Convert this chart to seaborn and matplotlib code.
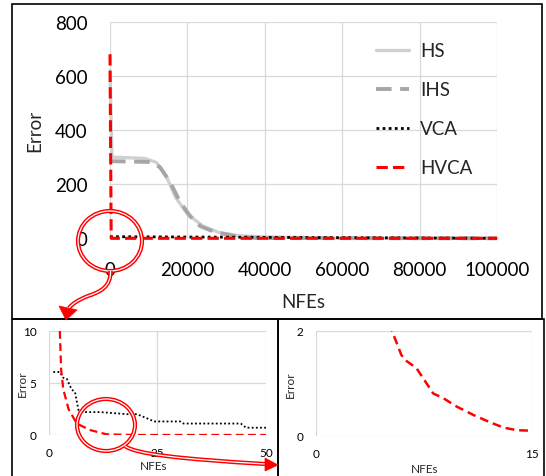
import pandas as pd
import numpy as np
import matplotlib
matplotlib.use('Agg')
import matplotlib.pyplot as plt
import seaborn as sns
from matplotlib.patches import Ellipse, Rectangle, Polygon, PathPatch
from matplotlib.path import Path

sns.set_theme(style='white')
plt.rcParams['font.family'] = ['Lato', 'DejaVu Sans']

# Top panel (full run)
hs_x = [0, 500, 9000, 12000, 14500, 17000, 20000, 24000, 28000, 33000, 40000, 50000, 58000, 100000]
hs_y = [620, 300, 295, 280, 230, 150, 90, 45, 22, 10, 5, 3, 0, 0]
ihs_x = [0, 10300, 12900, 15500, 18100, 20700, 23300, 27100, 33600, 38000, 100000]
ihs_y = [285, 282, 263, 208, 134, 82, 45, 23, 5, 1, 0]
vca_x = [0, 100000]
vca_y = [6, 0]
hvca_x = [0, 300, 100000]
hvca_y = [680, 0, 0]

# Bottom-left zoom (first 50 NFEs)
zl_vca_x = [1, 2.5, 3.3, 4.1, 5.2, 6.0, 6.8, 7.9, 11.8, 18, 20.3, 22.6, 24.2, 30.3, 31, 44.2, 45.4, 50]
zl_vca_y = [6.06, 6.06, 5.5, 5.4, 4.4, 4.1, 2.4, 2.2, 2.2, 2.0, 2.0, 1.6, 1.3, 1.3, 1.1, 1.1, 0.7, 0.7]
zl_hvca_x = [2.5, 2.8, 3.3, 4.5, 6.4, 9.5, 13.3, 19.5, 50]
zl_hvca_y = [10, 6.3, 4.4, 2.5, 1.1, 0.47, 0.06, 0, 0]

# Bottom-right zoom (first 15 NFEs)
zr_hvca_x = [5.1, 5.28, 5.93, 6.28, 6.98, 7.44, 8.14, 8.84, 9.77, 10.93, 12.09, 13.02, 13.95, 15]
zr_hvca_y = [2.15, 2.0, 1.54, 1.43, 1.29, 1.10, 0.81, 0.72, 0.56, 0.40, 0.26, 0.16, 0.11, 0.10]

RED = '#ff0000'
GRID = '#d9d9d9'

fig = plt.figure(figsize=(5.46, 4.77), dpi=100)


def style_axes(ax, xticks, yticks, fs, pad):
    ax.set_xticks(xticks)
    ax.set_yticks(yticks)
    ax.set_xlim(xticks[0], xticks[-1])
    ax.set_ylim(yticks[0], yticks[-1])
    ax.grid(True, color=GRID, lw=0.9)
    for s in ax.spines.values():
        s.set_visible(False)
    ax.tick_params(length=0, labelsize=fs, pad=pad, colors='black')


# top chart
ax = fig.add_axes([0.2015, 0.4983, 0.7088, 0.4541])
sns.lineplot(x=hs_x, y=hs_y, ax=ax, color='#d0d0d0', lw=2.4, label='HS')
sns.lineplot(x=ihs_x, y=ihs_y, ax=ax, color='#a6a6a6', lw=2.8, linestyle=(0, (4, 2.2)), label='IHS')
sns.lineplot(x=vca_x, y=vca_y, ax=ax, color='black', lw=2.0, linestyle=(0, (1, 1.2)), label='VCA')
sns.lineplot(x=hvca_x, y=hvca_y, ax=ax, color=RED, lw=2.2, linestyle=(0, (3.7, 1.7)), label='HVCA')
style_axes(ax, [0, 20000, 40000, 60000, 80000, 100000], [0, 200, 400, 600, 800], 13.5, 16)
for ln in ax.lines:
    ln.set_clip_on(False)
ax.set_xlabel('NFEs', fontsize=13.5)
ax.set_ylabel('Error', fontsize=13.5)
ax.xaxis.set_label_coords(0.5, -0.294)
ax.xaxis.label.set_verticalalignment('center')
ax.yaxis.set_label_coords(-0.194, 0.5)
ax.yaxis.label.set_verticalalignment('center')
ax.legend(loc='upper left', bbox_to_anchor=(0.687, 0.906), frameon=False, fontsize=13.5,
          handlelength=1.76, handletextpad=0.6, labelspacing=1.18, borderpad=0, borderaxespad=0)

# bottom-left zoom
axl = fig.add_axes([0.0897, 0.0860, 0.3974, 0.2180])
sns.lineplot(x=zl_vca_x, y=zl_vca_y, ax=axl, color='black', lw=1.3, linestyle=(0, (1, 1.3)))
sns.lineplot(x=zl_hvca_x, y=zl_hvca_y, ax=axl, color=RED, lw=1.6, linestyle=(0, (3.5, 2)))
style_axes(axl, [0, 25, 50], [0, 5, 10], 8.5, 9)
axl.set_xlabel('NFEs', fontsize=8.5)
axl.set_ylabel('Error', fontsize=8.5)
axl.xaxis.set_label_coords(0.48, -0.295)
axl.xaxis.label.set_verticalalignment('center')
axl.yaxis.set_label_coords(-0.121, 0.5)
axl.yaxis.label.set_verticalalignment('center')

# bottom-right zoom
axr = fig.add_axes([0.5788, 0.0839, 0.3956, 0.2201])
sns.lineplot(x=zr_hvca_x, y=zr_hvca_y, ax=axr, color=RED, lw=1.8, linestyle=(0, (3.5, 2)))
style_axes(axr, [0, 15], [0, 2], 8.5, 9)
axr.set_xlabel('NFEs', fontsize=8.5)
axr.set_ylabel('Error', fontsize=8.5)
axr.xaxis.set_label_coords(0.505, -0.305)
axr.xaxis.label.set_verticalalignment('center')
axr.yaxis.set_label_coords(-0.12, 0.5)
axr.yaxis.label.set_verticalalignment('center')

# overlay in pixel coordinates for frames, circles and arrows
ov = fig.add_axes([0, 0, 1, 1], facecolor='none')
ov.set_xlim(0, 546)
ov.set_ylim(477, 0)
ov.axis('off')

for (x0, y0, w, h) in [(12, 5, 530, 315), (12, 320, 266, 170), (278, 320, 266, 170)]:
    ov.add_patch(Rectangle((x0, y0), w, h, fill=False, ec='black', lw=1.2, clip_on=False))


def double_ellipse(cx, cy, w, h):
    ov.add_patch(Ellipse((cx, cy), w, h, fill=False, ec=RED, lw=3.0))
    ov.add_patch(Ellipse((cx, cy), w, h, fill=False, ec='white', lw=0.9))


def double_path(verts, codes):
    p = Path(verts, codes)
    ov.add_patch(PathPatch(p, fill=False, ec=RED, lw=3.0, capstyle='butt'))
    ov.add_patch(PathPatch(p, fill=False, ec='white', lw=0.9, capstyle='butt'))


double_ellipse(110, 242, 64, 60)
double_path([(110.5, 272), (111, 288), (100, 293), (88, 297), (78, 301), (72, 305), (69, 309)],
            [Path.MOVETO, Path.CURVE4, Path.CURVE4, Path.CURVE4, Path.CURVE4, Path.CURVE4, Path.CURVE4])
ov.add_patch(Polygon([(66, 321), (59, 307), (77, 311)], closed=True, fc=RED, ec=RED, lw=0.5))

double_ellipse(106, 426, 58, 52)
double_path([(125, 447), (135, 455), (180, 460), (265, 465)],
            [Path.MOVETO, Path.CURVE4, Path.CURVE4, Path.CURVE4])
ov.add_patch(Polygon([(278, 466), (265, 459), (265, 472)], closed=True, fc=RED, ec=RED, lw=0.5))

fig.savefig('out.png', dpi=100)
